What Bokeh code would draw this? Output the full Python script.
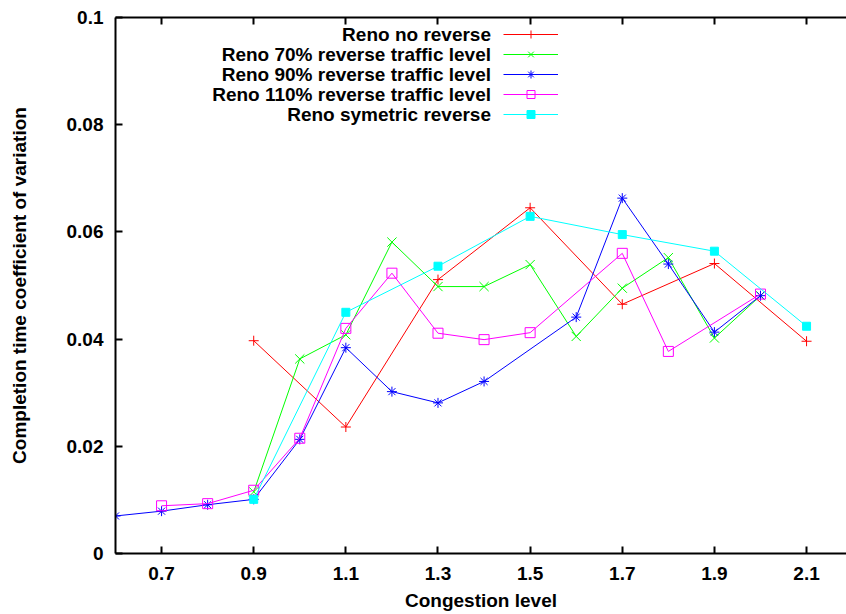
from bokeh.plotting import figure
from bokeh.models import (Range1d, LinearAxis, FixedTicker, CustomJSTickFormatter,
                          Legend, LegendItem, Label, CustomLabelingPolicy)
from bokeh.embed import file_html
from bokeh.resources import INLINE

# ---- data ----
red_x = [0.9, 1.1, 1.3, 1.5, 1.7, 1.9, 2.1]
red_y = [0.0397, 0.0236, 0.0511, 0.0645, 0.0465, 0.0541, 0.0396]

green_x = [0.9, 1.0, 1.1, 1.2, 1.3, 1.4, 1.5, 1.6, 1.7, 1.8, 1.9, 2.0]
green_y = [0.0115, 0.0363, 0.0408, 0.0581, 0.0498, 0.0498, 0.0539, 0.0405, 0.0495, 0.0552, 0.0402, 0.0481]

blue_x = [0.6, 0.7, 0.8, 0.9, 1.0, 1.1, 1.2, 1.3, 1.4, 1.6, 1.7, 1.8, 1.9, 2.0]
blue_y = [0.0070, 0.0079, 0.0091, 0.0101, 0.0213, 0.0384, 0.0302, 0.0281, 0.0321, 0.0441, 0.0663, 0.0540, 0.0413, 0.0481]

magenta_x = [0.7, 0.8, 0.9, 1.0, 1.1, 1.2, 1.3, 1.4, 1.5, 1.7, 1.8, 2.0]
magenta_y = [0.0089, 0.0093, 0.0118, 0.0215, 0.0420, 0.0523, 0.0411, 0.0399, 0.0412, 0.0560, 0.0377, 0.0484]

cyan_x = [0.9, 1.1, 1.3, 1.5, 1.7, 1.9, 2.1]
cyan_y = [0.0101, 0.0450, 0.0536, 0.0629, 0.0595, 0.0564, 0.0424]

series_names = ["Reno no reverse", "Reno 70% reverse traffic level",
                "Reno 90% reverse traffic level", "Reno 110% reverse traffic level",
                "Reno symetric reverse"]

x_ticks = [0.7, 0.9, 1.1, 1.3, 1.5, 1.7, 1.9, 2.1]
y_ticks = [0, 0.02, 0.04, 0.06, 0.08, 0.1]

FONT = "Liberation Sans"
FS = "19px"

W, H = 846, 614
MB_L, MB_T, MB_B = 115, 17, 61
FRAME_H = H - MB_T - MB_B

p = figure(width=W, height=H, output_backend="svg", toolbar_location=None,
           x_range=Range1d(0.6, 2.1867), y_range=Range1d(0, 0.1),
           min_border_left=MB_L, min_border_right=0, min_border_top=MB_T,
           min_border_bottom=MB_B, x_axis_label="Congestion level",
           y_axis_label="Completion time coefficient of variation")
p.outline_line_color = None
p.xgrid.visible = False
p.ygrid.visible = False
p.background_fill_color = "white"
p.border_fill_color = "white"

xfmt = CustomJSTickFormatter(code="return tick.toFixed(1);")
yfmt = CustomJSTickFormatter(code="var s = tick.toFixed(2); s = s.replace(/0+$/, ''); s = s.replace(/\\.$/, ''); return s;")

def style_axis(ax):
    ax.axis_line_width = 2
    ax.axis_line_color = "black"
    ax.major_tick_in = 7
    ax.major_tick_out = 0
    ax.major_tick_line_width = 2
    ax.major_tick_line_color = "black"
    ax.minor_tick_line_color = None
    ax.major_label_text_font = FONT
    ax.major_label_text_font_size = FS
    ax.major_label_text_font_style = "bold"
    ax.major_label_text_color = "black"
    ax.axis_label_text_font = FONT
    ax.axis_label_text_font_size = FS
    ax.axis_label_text_font_style = "bold"
    ax.axis_label_text_color = "black"

xa = p.xaxis[0]
xa.ticker = FixedTicker(ticks=x_ticks)
xa.formatter = xfmt
style_axis(xa)
xa.major_label_standoff = 13
xa.axis_label_standoff = 7

ya = p.yaxis[0]
ya.ticker = FixedTicker(ticks=y_ticks)
ya.formatter = yfmt
style_axis(ya)
ya.major_label_standoff = 12
ya.axis_label_standoff = 34

# mirrored ticks along the top border, no labels
top = LinearAxis(ticker=FixedTicker(ticks=x_ticks),
                 formatter=CustomJSTickFormatter(code="return '';"),
                 major_label_policy=CustomLabelingPolicy(
                     code="try { for (const i of [...indices]) { indices.unset(i) } } catch (e) {} return indices;"))
style_axis(top)
top.major_label_text_font_size = "0px"
top.major_label_standoff = 0
p.add_layout(top, "above")

colors = ["#ff0000", "#00ff00", "#0000ff", "#ff00ff", "#00ffff"]
data = [(red_x, red_y), (green_x, green_y), (blue_x, blue_y),
        (magenta_x, magenta_y), (cyan_x, cyan_y)]
markers = [("cross", 10, None), ("x", 13, None), ("asterisk", 10, None),
           ("square", 10, None), ("square", 8, "#00ffff")]

items = []
for (xs, ys), c, (m, sz, fill) in zip(data, colors, markers):
    rl = p.line(xs, ys, line_color=c, line_width=1)
    rm = p.scatter(xs, ys, marker=m, size=sz, line_color=c, line_width=1,
                   fill_color=fill if fill else None)
    items.append(LegendItem(label=" ", renderers=[rl, rm]))

# legend samples (line + marker) to the right of right-aligned names
ROW = 20
first_center = 17.3
GW = 55
leg_top = first_center - ROW / 2
legend = Legend(items=items, location=(388, FRAME_H - leg_top - ROW * len(items)),
                glyph_width=GW, glyph_height=ROW, label_height=ROW,
                label_width=0, label_standoff=0, spacing=0, padding=0, margin=0,
                label_text_font=FONT, label_text_font_size="10px",
                label_text_color=None,
                border_line_color=None, background_fill_alpha=0)
p.add_layout(legend, "center")

for i, name in enumerate(series_names):
    p.add_layout(Label(x=375.5, y=FRAME_H - (first_center + ROW * i),
                       x_units="screen", y_units="screen", text=name,
                       text_align="right", text_baseline="middle",
                       text_font=FONT, text_font_size=FS,
                       text_font_style="bold", text_color="black"))

open("out.html", "w").write(file_html(p, INLINE))
